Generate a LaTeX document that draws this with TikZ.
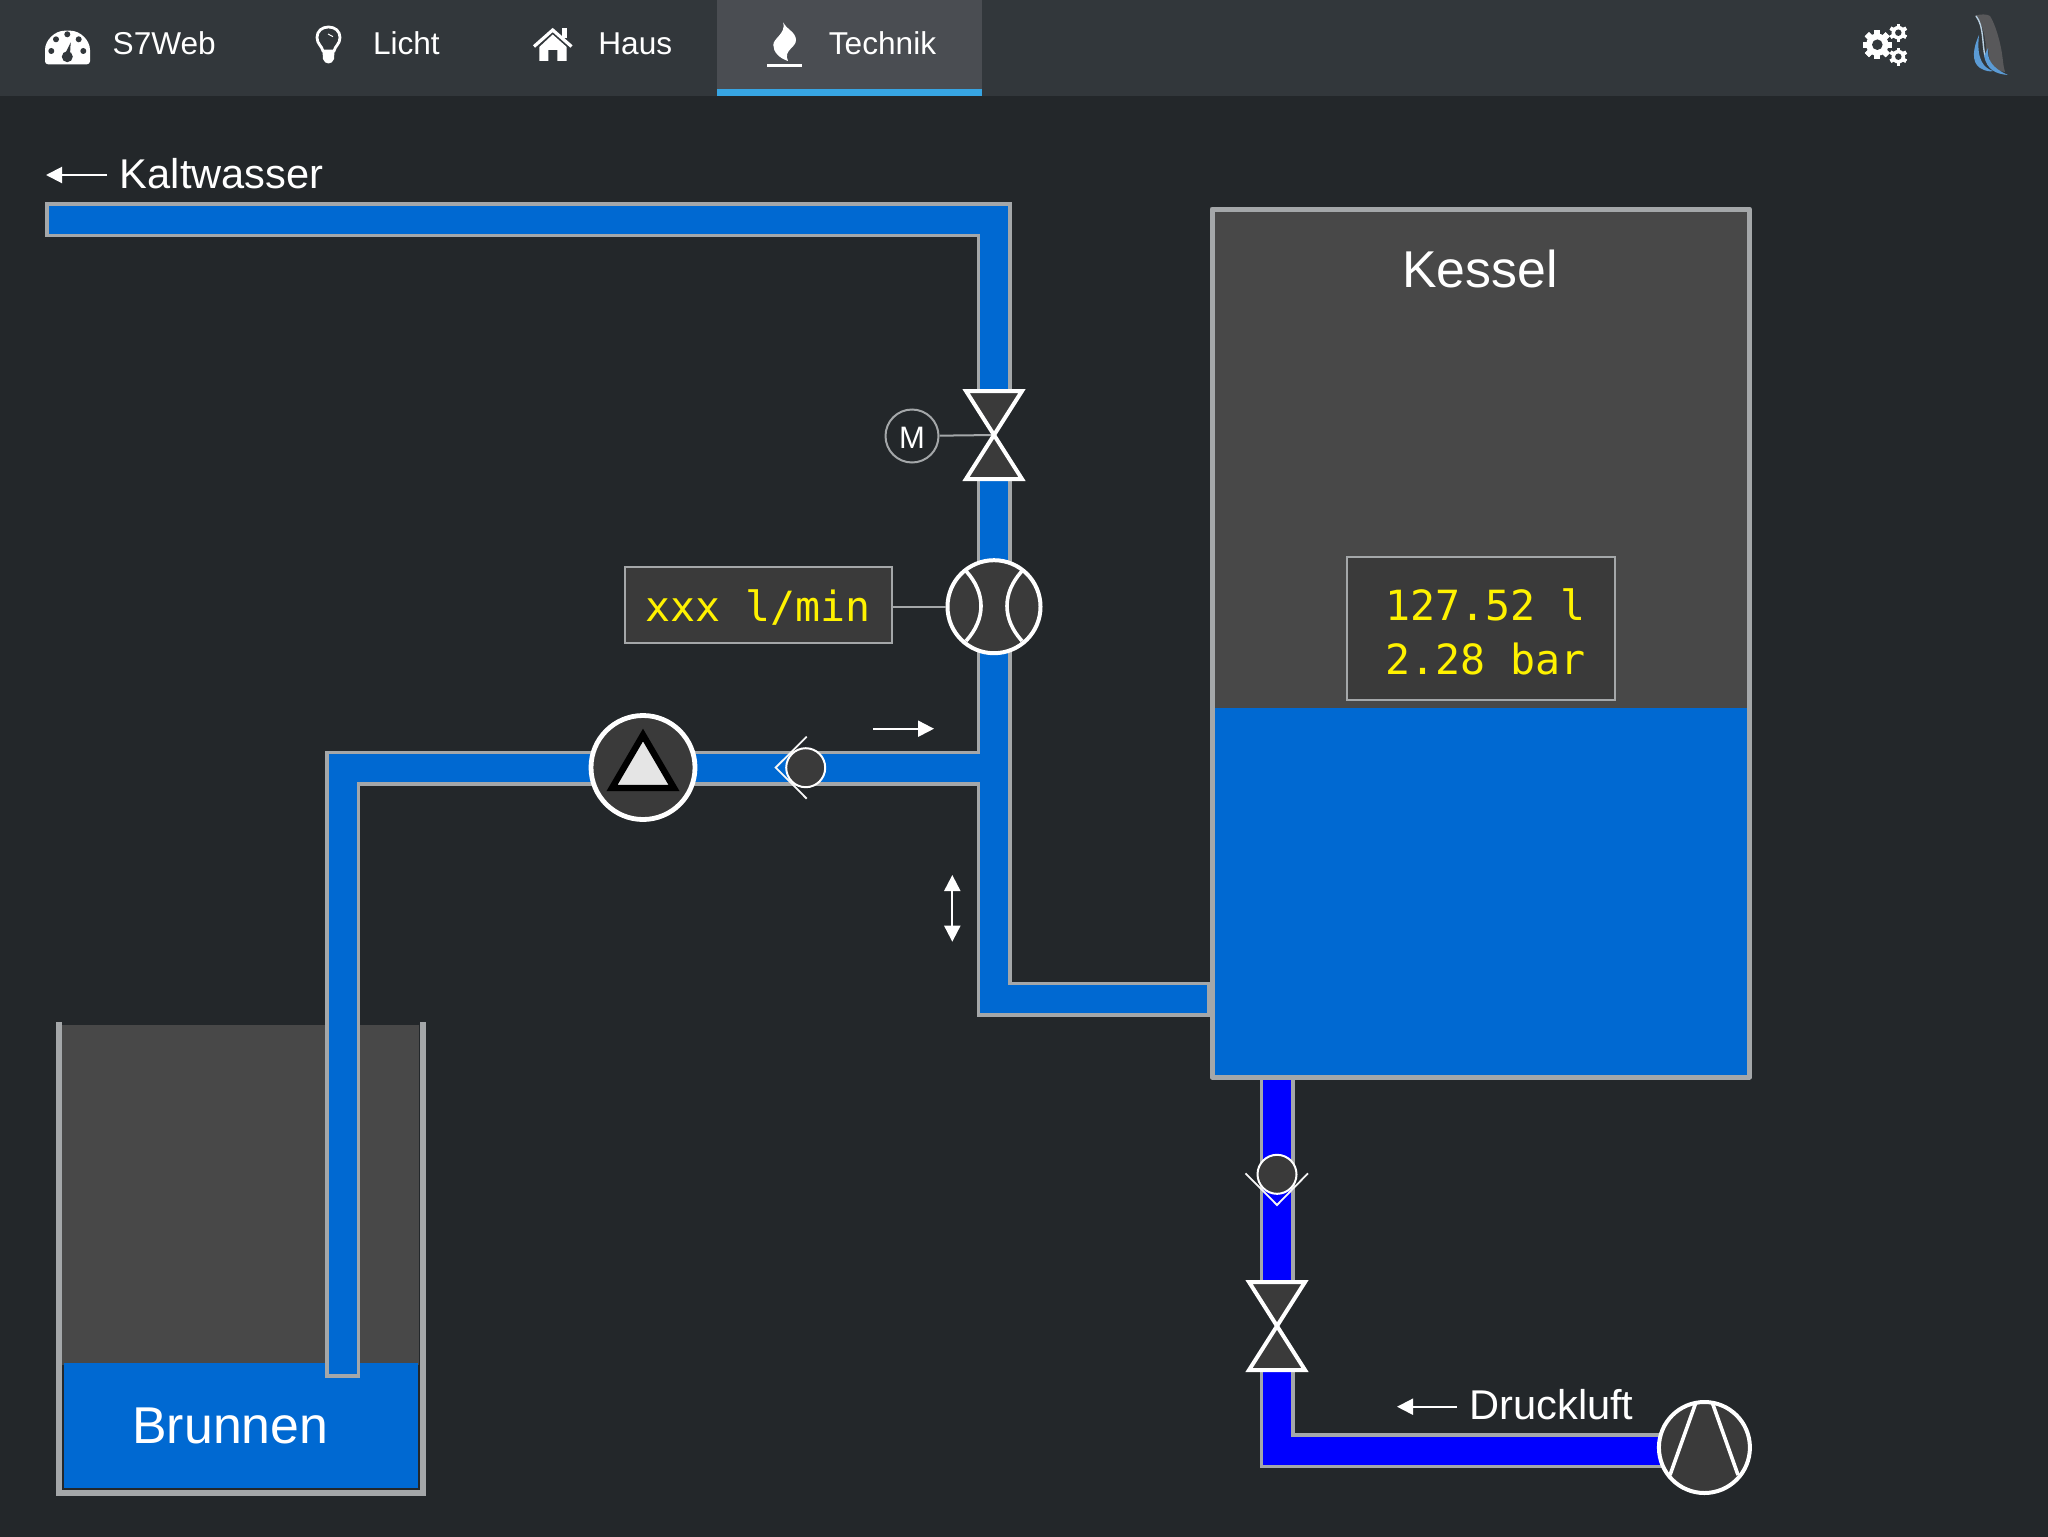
\documentclass[tikz,border=0pt]{standalone}
\usepackage{fontspec}
\setmainfont{Liberation Sans}
\setmonofont{DejaVu Sans Mono}
\usetikzlibrary{arrows.meta}
\definecolor{pagebg}{HTML}{23272A}
\definecolor{navbar}{HTML}{32373B}
\definecolor{navactive}{HTML}{4A4D52}
\definecolor{navline}{HTML}{37A5E3}
\definecolor{water}{HTML}{0069D2}
\definecolor{airblue}{HTML}{0000FF}
\definecolor{pipegray}{HTML}{A4A7A9}
\definecolor{gasgray}{HTML}{484848}
\definecolor{partgray}{HTML}{3A3A3A}
\definecolor{penguinbody}{HTML}{58585A}
\definecolor{penguinblue}{HTML}{5B9BD5}
\definecolor{penguinpale}{HTML}{B8CFE0}
\tikzset{
    navtext/.style={anchor=base west,inner sep=0pt,text=white,font=\fontsize{15.8}{18}\selectfont},
    labeltext/.style={anchor=base west,inner sep=0pt,text=white,font=\fontsize{20.8}{24}\selectfont},
    tanktext/.style={anchor=base west,inner sep=0pt,text=white,font=\fontsize{25.9}{30}\selectfont},
    disptext/.style={anchor=base west,inner sep=0pt,text=yellow,font=\ttfamily\fontsize{20.8}{24}\selectfont},
    dispbox/.style={draw=pipegray,fill=partgray,line width=1pt,inner sep=0pt},
    pipeborder/.style={draw=pipegray,line width=17.5pt,line cap=rect,miter limit=10},
    waterpipe/.style={draw=water,line width=14pt,line cap=rect},
    airpipe/.style={draw=airblue,line width=14pt,line cap=rect},
    part/.style={draw=white,fill=partgray,line width=2pt,line join=miter},
    partline/.style={draw=white,line width=1.8pt},
    ballvalve/.style={circle,draw=white,fill=partgray,line width=1pt,minimum size=19.5pt,inner sep=0pt},
    checkline/.style={draw=white!90!pipegray,line width=.9pt},
    wire/.style={draw=pipegray,line width=1pt},
    flowarrow/.style={draw=white,line width=1pt,-{Triangle[length=8pt,width=8pt]}},
    botharrow/.style={draw=white,line width=1pt,{Triangle[length=8pt,width=8pt]}-{Triangle[length=8pt,width=8pt]}},
}
\newcommand{\gearicon}[4]{%
    \fill[white] (#1,#2) circle[radius=#3*.76];
    \foreach \a in {0,#4,...,359} {
        \fill[white,shift={(#1,#2)},rotate=\a] (-#3*.2,-#3) rectangle (#3*.2,#3);
    }
    \fill[navbar] (#1,#2) circle[radius=#3*.36];
}
\begin{document}
\begin{tikzpicture}[x=.5pt,y=-.5pt]
    \useasboundingbox (0,0) rectangle (2048,1536);
    \fill[pagebg] (-6,-6) rectangle (2054,1542);
    % navigation bar
    \fill[navbar] (-6,-6) rectangle (2054,96);
    \fill[navactive] (717,-6) rectangle (982,96);
    \fill[navline] (717,89.5) rectangle (982,96);
    \node[navtext] (navweb) at (112.3,55) {S7Web};
    \node[navtext] (navlicht) at (372.6,55) {Licht};
    \node[navtext] (navhaus) at (598,55) {Haus};
    \node[navtext] (navtechnik) at (828.5,55) {Technik};
    % gauge
    \fill[white,rounded corners=1.5pt] (45,64.3) -- (45,53) .. controls (45,40) and (55,30.7) .. (67.5,30.7)
        .. controls (80,30.7) and (90,40) .. (90,53) -- (90,64.3) -- cycle;
    \foreach \dx/\dy in {51.3/51,56/39.3,67.3/34.3,78.7/39.3,83.3/51} {
        \fill[navbar] (\dx,\dy) circle[radius=3];
    }
    \fill[navbar] (67.3,56.7) circle[radius=5.5];
    \fill[navbar] (65,54) -- (70.7,42.3) -- (70,55) -- cycle;
    % bulb
    \draw[white,line width=1.4pt] (323,51) .. controls (322,46) and (317,44) .. (317,37.5)
        .. controls (317,31) and (322,27) .. (328.5,27) .. controls (335,27) and (340,31) .. (340,37.5)
        .. controls (340,44) and (335,46) .. (334,51) -- cycle;
    \fill[white] (322.5,51) -- (334.5,51) -- (334,59) .. controls (333,62) and (331,63.5) .. (328.5,63.5)
        .. controls (326,63.5) and (324,62) .. (323,59) -- cycle;
    \draw[white,line width=.5pt] (328,34) -- (333,36.7);
    % house
    \draw[white,line width=1.6pt] (534,46.5) -- (552.7,30) -- (571.5,46.5);
    \fill[white] (561.5,28.3) rectangle (566.7,38);
    \fill[white] (539.3,61) -- (539.3,47) -- (552.7,34.5) -- (566.7,47) -- (566.7,61) -- (557.3,61)
        -- (557.3,50) -- (548.3,50) -- (548.3,61) -- cycle;
    % flame
    \fill[white] (783.3,22.3) .. controls (786,29) and (796,32) .. (796,40)
        .. controls (796,48) and (783,50) .. (788,61) .. controls (779,58) and (773.3,52) .. (773.3,45)
        .. controls (773.3,38) and (786,34) .. (783.3,22.3) -- cycle;
    \fill[white] (766.7,64) rectangle (801.7,67.3);
    % gears
    \gearicon{1877.3}{44.7}{14.7}{45}
    \gearicon{1898.3}{32.7}{9}{60}
    \gearicon{1898.3}{56.7}{9}{60}
    % penguin
    \fill[penguinbody] (1975,15.5) .. controls (1981,14) and (1987,14) .. (1990,16)
        .. controls (1995,24) and (1999,38) .. (2001,48) .. controls (2003,58) and (2003,66) .. (2005,72)
        -- (1995,70) .. controls (1990,66) and (1989,56) .. (1988,48) -- (1986,54)
        .. controls (1986,40) and (1984,25) .. (1975,15.5) -- cycle;
    \draw[penguinpale,line width=.7pt] (1976,16) .. controls (1984,26) and (1982,44) .. (1985,56);
    \fill[penguinblue] (1979,35) .. controls (1973,48) and (1971,62) .. (1980,68)
        .. controls (1985,71) and (1990,72) .. (1993,71) .. controls (1984,68) and (1976,60) .. (1979,35) -- cycle;
    \fill[penguinblue] (1984,56) -- (1988,48) .. controls (1987,60) and (1992,68) .. (2008,75)
        .. controls (1996,74) and (1987,70) .. (1984,56) -- cycle;
    % kaltwasser label
    \draw[flowarrow] (107,175) coordinate (kaltstart) -- (46,175) coordinate (kaltend);
    \node[labeltext] (kaltwasser) at (119.5,188) {Kaltwasser};
    % brunnen
    \fill[gasgray] (62,1025) rectangle (419,1365);
    \fill[water] (64,1363) rectangle (418,1488);
    \draw[pipegray,line width=3pt,line cap=butt,miter limit=10] (59,1022) -- (59,1492.5) -- (422.5,1492.5) -- (422.5,1022);
    \node[tanktext] (brunnen) at (132,1443) {Brunnen};
    % pipes
    \draw[pipeborder] (62.5,219.5) -- (994,219.5) -- (994,999) -- (1212,999);
    \draw[pipeborder] (994,768) -- (342.5,768) -- (342.5,1360);
    \draw[pipeborder] (1277,1070) -- (1277,1450.5) -- (1700,1450.5);
    \draw[waterpipe] (62.5,219.5) -- (994,219.5) -- (994,999) -- (1193,999);
    \draw[waterpipe] (994,768) -- (342.5,768) -- (342.5,1360);
    \draw[airpipe] (1277,1070) -- (1277,1450.5) -- (1700,1450.5);
    % kessel
    \fill[gasgray] (1212,209) rectangle (1749.5,710);
    \fill[water] (1212,708) rectangle (1749.5,1077);
    \draw[pipegray,line width=2.5pt,line join=round] (1212,209) rectangle (1749.5,1077);
    \node[tanktext,anchor=base] (kessel) at (1480,287) {Kessel};
    \node[dispbox,minimum width=133.7pt,minimum height=71.5pt] (kesseldisp) at (1481,628.5) {};
    \node[disptext] (kesselvol) at (1385,620) {127.52 l};
    \node[disptext] (kesseldruck) at (1385,674) {2.28 bar};
    % motor valve
    \foreach \vx/\vy in {994/435,1277/1326} {
        \fill[pagebg] (\vx-20,\vy-44) rectangle (\vx+20,\vy+44);
    }
    \coordinate (motorvalve) at (994,435);
    \node[circle,draw=pipegray,line width=1pt,minimum size=26.5pt,inner sep=0pt,text=white,text height=12.4pt,text depth=0pt,
        font=\fontsize{15.5}{18}\selectfont] (motor) at (912,436) {M};
    \draw[wire] (motor) -- (motorvalve);
    \foreach \vx/\vy in {994/435,1277/1326} {
        \draw[part] (\vx-28,\vy-44) -- (\vx+28,\vy-44) -- (\vx,\vy) -- cycle;
        \draw[part] (\vx-28,\vy+44) -- (\vx+28,\vy+44) -- (\vx,\vy) -- cycle;
    }
    % flow meter
    \node[dispbox,minimum width=133.5pt,minimum height=38pt] (flowdisp) at (758.5,605) {};
    \node[disptext] (flowtext) at (645,621.7) {xxx l/min};
    \node[circle,part,minimum size=46.5pt,inner sep=0pt] (meter) at (994,606.7) {};
    \draw[wire] (flowdisp.east |- meter) -- (meter);
    \draw[partline] (966,571) .. controls (976,582) and (981,594) .. (981,606) .. controls (981,618) and (976,630) .. (966,641);
    \draw[partline] (1022,571) .. controls (1012,582) and (1007,594) .. (1007,606) .. controls (1007,618) and (1012,630) .. (1022,641);
    % pump
    \node[circle,part,line width=2.4pt,minimum size=52pt,inner sep=0pt] (pump) at (643,767.5) {};
    \draw[draw=black,fill=white!90!black,line width=3.2pt,miter limit=10] (643,735) -- (612,788) -- (674,788) -- cycle;
    % check valves
    \draw[checkline] (806.7,736.7) -- (775.7,767.5) -- (806.7,798.7);
    \node[ballvalve] (checkwater) at (805.7,767.7) {};
    \draw[checkline] (1245.5,1173.3) -- (1277,1205) -- (1308,1173.3);
    \node[ballvalve] (checkair) at (1277,1174.3) {};
    % arrows
    \draw[flowarrow] (873,728.7) coordinate (flowstart) -- (934,728.7) coordinate (flowend);
    \draw[botharrow] (952.3,875) coordinate (levelup) -- (952.3,941.7) coordinate (leveldown);
    % druckluft
    \draw[flowarrow] (1457,1406.7) coordinate (druckstart) -- (1397,1406.7) coordinate (druckend);
    \node[labeltext] (druckluft) at (1469,1419) {Druckluft};
    \node[circle,part,minimum size=45.5pt,inner sep=0pt] (kompressor) at (1704.4,1447.5) {};
    \draw[partline] (1695.7,1403) -- (1670,1475);
    \draw[partline] (1712.4,1403) -- (1738,1475);
\end{tikzpicture}
\end{document}
